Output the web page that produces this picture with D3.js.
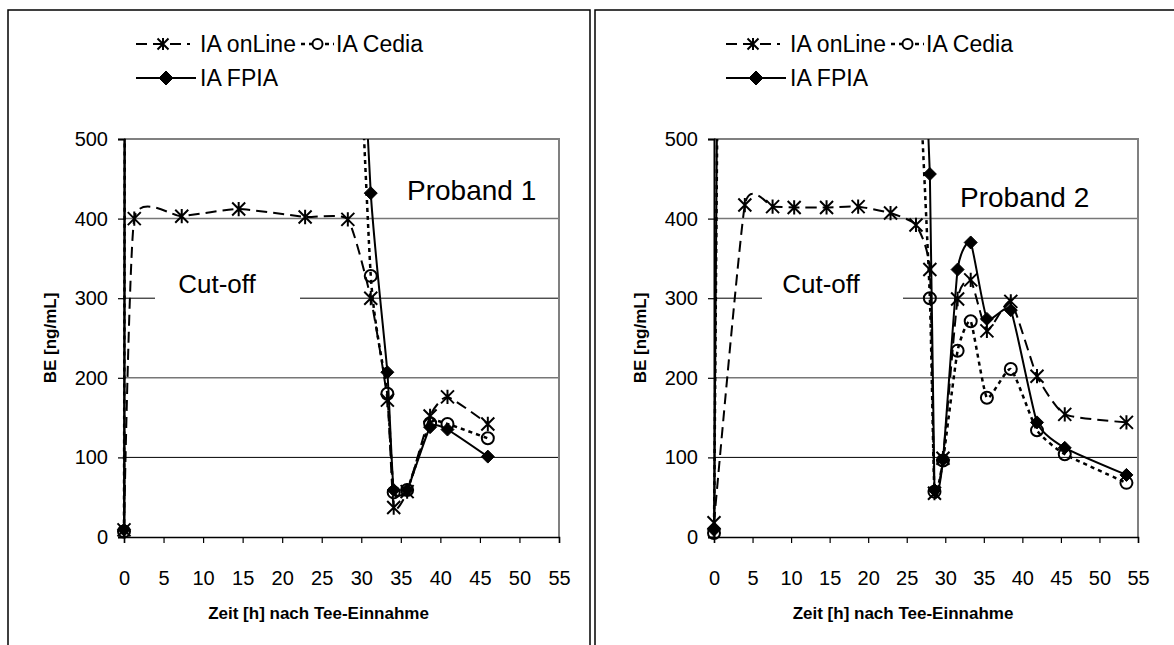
<!DOCTYPE html>
<html><head><meta charset="utf-8">
<script src="https://cdn.jsdelivr.net/npm/d3@7"></script>
<style>
body{margin:0;background:#fff}
svg{display:block}
text{font-family:"Liberation Sans",Arial,sans-serif;fill:#000}
</style>
</head><body>
<svg id="chart" width="1174" height="645"></svg>
<script>
// ---------- data ----------
const xTicks = [0,5,10,15,20,25,30,35,40,45,50,55];
const yTicks = [0,100,200,300,400,500];
const seriesNames = ["IA onLine","IA Cedia","IA FPIA"];
const panelTitles = ["Proband 1","Proband 2"];
const cutoffLabel = "Cut-off";
const xTitle = "Zeit [h] nach Tee-Einnahme";
const yTitle = "BE [ng/mL]";

// Proband 1
const time1   = [0, 1.3, 7.3, 14.5, 22.9, 28.3, 31.2, 33.3, 34.1, 35.8, 38.7, 40.9, 46.0];
const onLine1 = [9, 400, 403, 412, 402, 399, 300, 172, 37, 57, 152, 176, 142];
const cedia1  = [7, 4200, 3500, 2800, 2000, 950, 328, 180, 56, 59, 143, 142, 124];
const fpia1   = [9, 4800, 4000, 3000, 2200, 1000, 432, 207, 59, 59, 138, 135, 101];

// Proband 2
const time2   = [0, 4.0, 7.6, 10.4, 14.6, 18.7, 22.9, 26.2, 28.0, 28.6, 29.7, 31.6, 33.3, 35.4, 38.5, 41.9, 45.5, 53.5];
const onLine2 = [18, 417, 415, 414, 414, 415, 407, 392, 336, 55, 99, 299, 323, 259, 296, 202, 154, 144];
const cedia2  = [5, 4500, 4000, 3500, 3000, 2500, 1800, 700, 300, 57, 96, 234, 271, 175, 211, 134, 104, 68];
const fpia2   = [9, 5000, 4500, 4000, 3500, 3000, 2000, 900, 456, 59, 97, 336, 370, 274, 285, 144, 112, 78];

// ---------- drawing ----------
const svg = d3.select("#chart");
const FONT = '"Liberation Sans",Arial,sans-serif';

const styles = {
  "IA onLine": {dash:"11,6", width:2, marker:"asterisk"},
  "IA Cedia":  {dash:"4,4",  width:2.5, marker:"circle"},
  "IA FPIA":   {dash:null,   width:2, marker:"diamond"}
};

function drawMarker(g, type, x, y, s) {
  if (type === "asterisk") {
    g.append("path")
      .attr("d", `M${x-s},${y-s}L${x+s},${y+s}M${x-s},${y+s}L${x+s},${y-s}M${x},${y-s*1.1}L${x},${y+s*1.1}`)
      .attr("stroke","#000").attr("stroke-width",2).attr("fill","none");
  } else if (type === "circle") {
    g.append("circle").attr("cx",x).attr("cy",y).attr("r",s)
      .attr("stroke","#000").attr("stroke-width",2).attr("fill","none");
  } else {
    g.append("path")
      .attr("d", `M${x},${y-s}L${x+s},${y}L${x},${y+s}L${x-s},${y}Z`)
      .attr("fill","#000").attr("stroke","#000").attr("stroke-width",1);
  }
}

const panels = [
  {off:0,   left:124, right:559, title:panelTitles[0], titleX:407, titleY:200,
   cutX:217, cutGap:[155,300], time:time1, data:[onLine1, cedia1, fpia1]},
  {off:590, left:714, right:1138, title:panelTitles[1], titleX:960, titleY:207,
   cutX:821, cutGap:[762,903], time:time2, data:[onLine2, cedia2, fpia2]}
];
const TOP = 139, BOTTOM = 537;

// panel frames
svg.append("rect").attr("x",8).attr("y",10).attr("width",582).attr("height",700)
  .attr("fill","none").attr("stroke","#000").attr("stroke-width",1.5);
svg.append("rect").attr("x",595).attr("y",10).attr("width",600).attr("height",700)
  .attr("fill","none").attr("stroke","#000").attr("stroke-width",1.5);

panels.forEach((p, pi) => {
  const g = svg.append("g");
  const x = d3.scaleLinear().domain([0,55]).range([p.left, p.right]);
  const y = d3.scaleLinear().domain([0,500]).range([BOTTOM, TOP]);

  // gridlines
  yTicks.filter(v => v>0 && v<500).forEach(v => {
    g.append("line").attr("x1",p.left).attr("x2",p.right)
      .attr("y1",y(v)).attr("y2",y(v))
      .attr("stroke", (v/100)%2===0 ? "#777" : "#000")
      .attr("stroke-width", (v/100)%2===0 ? 1.5 : 1);
  });
  // top / right border (gray)
  g.append("path").attr("d",`M${p.left},${y(500)}H${p.right}V${y(0)}`)
    .attr("fill","none").attr("stroke","#808080").attr("stroke-width",2);

  // cut-off label with white gap
  g.append("rect").attr("x",p.cutGap[0]).attr("y",y(300)-4)
    .attr("width",p.cutGap[1]-p.cutGap[0]).attr("height",8).attr("fill","#fff");
  g.append("text").attr("x",p.cutX).attr("y",293).attr("text-anchor","middle")
    .attr("font-size",26).text(cutoffLabel);

  // axes
  const xa = g.append("g").attr("transform",`translate(0,${BOTTOM})`)
    .call(d3.axisBottom(x).tickValues(xTicks).tickSize(6).tickPadding(28).tickFormat(d3.format("d")));
  xa.select(".domain").attr("stroke","#000").attr("stroke-width",1.5);
  xa.selectAll(".tick line").attr("stroke","#000").attr("stroke-width",1.2);
  xa.selectAll("text").attr("font-size",20).attr("font-family",FONT);

  const ya = g.append("g").attr("transform",`translate(${p.left},0)`)
    .call(d3.axisLeft(y).tickValues(yTicks).tickSize(6).tickPadding(10).tickFormat(d3.format("d")));
  ya.select(".domain").attr("stroke","#000").attr("stroke-width",2);
  ya.selectAll(".tick line").attr("stroke","#000").attr("stroke-width",1.2);
  ya.selectAll("text").attr("font-size",20).attr("font-family",FONT);

  // axis titles
  g.append("text").attr("x",(p.left+p.right)/2-23).attr("y",619)
    .attr("text-anchor","middle").attr("font-size",17).attr("font-weight","bold").text(xTitle);
  g.append("text").attr("transform",`translate(${56+p.off},338) rotate(-90)`)
    .attr("text-anchor","middle").attr("font-size",17).attr("font-weight","bold").text(yTitle);

  // clip for series
  const clipId = "clip"+pi;
  svg.append("clipPath").attr("id",clipId).append("rect")
    .attr("x",p.left-10).attr("y",TOP).attr("width",p.right-p.left+20).attr("height",BOTTOM-TOP+20);

  const line = d3.line().x(d=>x(d[0])).y(d=>y(d[1])).curve(d3.curveCardinal.tension(0.5));
  const order = [1,0,2];
  order.forEach(si => {
    const name = seriesNames[si];
    const st = styles[name];
    const pts = p.time.map((t,i)=>[t, p.data[si][i]]);
    g.append("path").attr("clip-path",`url(#${clipId})`)
      .attr("d", line(pts)).attr("fill","none").attr("stroke","#000")
      .attr("stroke-width", st.width).attr("stroke-dasharray", st.dash);
  });
  order.forEach(si => {
    const name = seriesNames[si];
    const st = styles[name];
    p.time.forEach((t,i) => {
      const v = p.data[si][i];
      if (v <= 500) drawMarker(g, st.marker, x(t), y(v), st.marker==="circle"?6:6.5);
    });
  });

  // panel title
  g.append("text").attr("x",p.titleX).attr("y",p.titleY).attr("font-size",28).text(p.title);

  // legend
  const L = g.append("g").attr("transform",`translate(${p.off},0)`);
  const items = [
    {name:seriesNames[0], x0:136, x1:190, tx:200, y:44},
    {name:seriesNames[1], x0:301, x1:334, tx:336, y:44},
    {name:seriesNames[2], x0:136, x1:196, tx:200, y:78}
  ];
  items.forEach(it => {
    const st = styles[it.name];
    L.append("line").attr("x1",it.x0).attr("x2",it.x1).attr("y1",it.y).attr("y2",it.y)
      .attr("stroke","#000").attr("stroke-width",st.width).attr("stroke-dasharray",st.dash);
    const mx = (it.x0+it.x1)/2;
    if (st.marker==="circle") {
      L.append("circle").attr("cx",mx).attr("cy",it.y).attr("r",5).attr("fill","#fff")
        .attr("stroke","#000").attr("stroke-width",2);
    } else {
      drawMarker(L, st.marker, mx, it.y, st.marker==="diamond"?7:5.5);
    }
    L.append("text").attr("x",it.tx).attr("y",it.y+8).attr("font-size",23).text(it.name);
  });
});
</script>
</body></html>
